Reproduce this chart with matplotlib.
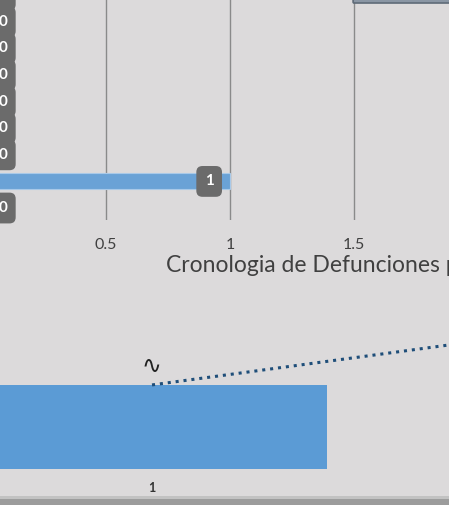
import matplotlib
matplotlib.use('Agg')
import matplotlib.pyplot as plt
from matplotlib.patches import Rectangle, FancyBboxPatch

plt.rcParams['font.family'] = ['Lato', 'DejaVu Sans']

W, H = 449, 505
BG = '#dcdadb'

# top chart (horizontal bars), bottom to top
top_values = [0, 1, 0, 0, 0, 0, 0, 0, 0]
top_ticks = [0.5, 1, 1.5]
top_title = 'Cronologia de Defunciones por'

# bottom chart (columns + dotted trend line)
bot_categories = [1, 2]
bot_values = [1, 1.8]
bot_labels = ['1', '2']


def box(l, t, r, b):
    # pixel box -> figure rect
    return [l / W, 1 - b / H, (r - l) / W, (b - t) / H]


fig = plt.figure(figsize=(W / 100, H / 100), dpi=100)
fig.patch.set_facecolor(BG)

# ========== top chart ==========
ax1 = fig.add_axes(box(-18, -20, 478, 220))
ax1.set_facecolor(BG)
ys = range(len(top_values))
ax1.barh(ys, top_values, height=0.6, color='#6aa2d6', edgecolor='#a9c9e8', linewidth=0.8, zorder=2)
for y, v in zip(ys, top_values):
    off = -15 if v > 0 else 15
    ax1.annotate(str(v), (v, y), xytext=(off, 0), textcoords='offset points',
                 ha='center', va='center', fontsize=11, fontweight='bold', color='white',
                 bbox=dict(boxstyle='round,pad=0.55,rounding_size=0.4', fc='#6b6b6b', ec='none'),
                 zorder=4, annotation_clip=False)
ax1.set_xlim(0, 2)
ax1.set_ylim(-0.45, 8.57)
ax1.set_xticks(top_ticks)
ax1.set_xticklabels([f'{t:g}' for t in top_ticks], fontsize=11.5, color='#404040')
ax1.set_yticks([])
ax1.grid(axis='x', color='#8a8a8a', linewidth=1, zorder=1)
ax1.tick_params(axis='x', length=0, pad=13)
for s in ax1.spines.values():
    s.set_visible(False)

fig.text(166 / W, 1 - 266 / H, top_title, fontsize=16.5, color='#404040', va='center', ha='left')

# box edge at top right
fig.patches.append(FancyBboxPatch((354 / W, 1 - 2 / H), 120 / W, 20 / H,
                                  boxstyle='round,pad=0.002', fc='#8a96a4', ec='#5f6b78',
                                  lw=1.2, transform=fig.transFigure, figure=fig))

# ========== bottom chart ==========
ax2 = fig.add_axes(box(-98, 300, 902, 469))
ax2.set_facecolor(BG)
ax2.bar(bot_categories, bot_values, width=0.7, color='#5b9bd5', zorder=2)
ax2.plot(bot_categories, bot_values, linestyle=(0, (1, 1.6)), linewidth=2.2,
         color='#1f4e79', zorder=3, clip_on=False)
ax2.text(bot_categories[0] - 0.002, bot_values[0] + 0.23, '∿', fontsize=17, color='#222222',
         ha='center', va='center', family=['DejaVu Sans'])
ax2.set_xlim(0.5, 2.5)
ax2.set_ylim(0, 2.01)
ax2.set_xticks(bot_categories)
ax2.set_xticklabels(bot_labels, fontsize=9, fontweight='bold', color='#333333')
ax2.tick_params(axis='x', length=0, pad=9)
ax2.set_yticks([])
for s in ax2.spines.values():
    s.set_visible(False)

# frame edge at bottom
fig.patches.append(Rectangle((0, 0), 1, 6 / H, transform=fig.transFigure,
                             fc='#9c9c9c', ec='none', figure=fig))
fig.patches.append(Rectangle((0, 6 / H), 1, 3 / H, transform=fig.transFigure,
                             fc='#c2c2c2', ec='none', figure=fig))

fig.savefig('out.png', dpi=100, facecolor=BG)
